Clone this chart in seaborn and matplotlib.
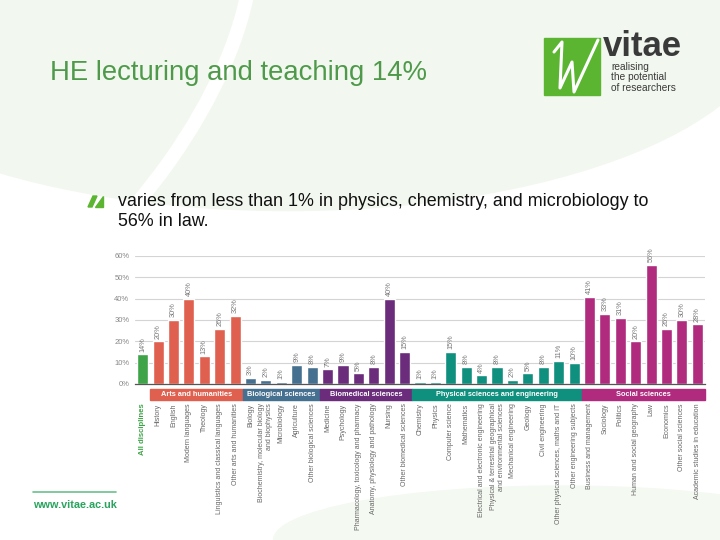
import matplotlib
matplotlib.use('Agg')
import matplotlib.pyplot as plt
import matplotlib.patches as mpatches
import matplotlib.transforms as mtransforms
import seaborn as sns
import pandas as pd

# --- dados ---
disciplinas = [
    'All disciplines',
    'History', 'English', 'Modern languages', 'Theology',
    'Linguistics and classical languages', 'Other arts and humanities',
    'Biology', 'Biochemistry, molecular biology\nand biophysics', 'Microbiology',
    'Agriculture', 'Other biological sciences',
    'Medicine', 'Psychology', 'Pharmacology, toxicology and pharmacy',
    'Anatomy, physiology and pathology', 'Nursing', 'Other biomedical sciences',
    'Chemistry', 'Physics', 'Computer science', 'Mathematics',
    'Electrical and electronic engineering',
    'Physical & terrestrial geographical\nand environmental sciences',
    'Mechanical engineering', 'Geology', 'Civil engineering',
    'Other physical sciences, maths and IT', 'Other engineering subjects',
    'Business and management', 'Sociology', 'Politics',
    'Human and social geography', 'Law', 'Economics',
    'Other social sciences', 'Academic studies in education',
]
valores = [14,
           20, 30, 40, 13, 26, 32,
           3, 2, 1, 9, 8,
           7, 9, 5, 8, 40, 15,
           1, 1, 15, 8, 4, 8, 2, 5, 8, 11, 10,
           41, 33, 31, 20, 56, 26, 30, 28]
grupos_nomes = ['All disciplines', 'Arts and humanities', 'Biological sciences',
                'Biomedical sciences', 'Physical sciences and engineering',
                'Social sciences']
grupos_tamanhos = [1, 6, 5, 6, 11, 8]
cores = ['#3ea447', '#e0604f', '#46708f', '#6a2c7b', '#0f8f7e', '#b02a7e']

grupo = []
for nome, n in zip(grupos_nomes, grupos_tamanhos):
    grupo += [nome] * n
df = pd.DataFrame({'disc': disciplinas, 'valor': valores, 'grupo': grupo})
paleta = dict(zip(grupos_nomes, cores))

sns.set_style('white')
plt.rcParams['font.family'] = ['Liberation Sans', 'DejaVu Sans']

fig = plt.figure(figsize=(7.2, 5.4), dpi=100)
fig.patch.set_facecolor('white')

# fundo verde claro (decoração do slide)
fig.patches.append(mpatches.Ellipse((0.40, 0.97), 1.35, 0.72, transform=fig.transFigure,
                                    color='#f2f8f0', zorder=-3))
fig.patches.append(mpatches.Ellipse((0.05, 0.80), 0.42, 1.0, angle=-28, transform=fig.transFigure,
                                    fill=False, lw=10, ec='white', zorder=-2))
fig.patches.append(mpatches.Ellipse((0.78, 0.0), 0.8, 0.2, transform=fig.transFigure,
                                    color='#f4f9f2', zorder=-3))

ax = fig.add_axes([135 / 720, 1 - 384 / 540, 570 / 720, 128 / 540])
ax.set_facecolor('none')
sns.barplot(data=df, x='disc', y='valor', hue='grupo', palette=paleta, order=disciplinas,
            dodge=False, legend=False, width=0.72, saturation=1, ax=ax, zorder=3)

ax.set_ylim(0, 60)
ax.set_xlim(-0.5, len(disciplinas) - 0.5)
ax.set_yticks(range(0, 61, 10))
ax.set_yticklabels([f'{v}%' for v in range(0, 61, 10)], fontsize=5.5, color='#888888')
ax.grid(axis='y', color='#d4d4d4', lw=0.8, zorder=0)
for s in ['top', 'right', 'left']:
    ax.spines[s].set_visible(False)
ax.spines['bottom'].set_color('#555555')
ax.spines['bottom'].set_linewidth(0.9)
ax.spines['bottom'].set_zorder(4)
ax.tick_params(axis='y', length=0, pad=4)
ax.tick_params(axis='x', length=0, pad=14)
ax.set_xlabel('')
ax.set_ylabel('')

# rótulos de valor
for i, v in enumerate(valores):
    ax.text(i, v + 1.2, f'{v}%', rotation=90, ha='center', va='bottom',
            fontsize=5.3, color='#777777')

# rótulos das disciplinas
ax.set_xticks(range(len(disciplinas)))
ax.set_xticklabels(disciplinas, rotation=90, fontsize=5, color='#666666',
                   ha='center', va='top', multialignment='right')
lab0 = ax.get_xticklabels()[0]
lab0.set_color('#3ea447')
lab0.set_fontweight('bold')
lab0.set_fontsize(5.6)

# faixas dos grupos
trans = mtransforms.blended_transform_factory(ax.transData, ax.transAxes)
inicio = 0
for nome, n, cor in zip(grupos_nomes, grupos_tamanhos, cores):
    if nome != 'All disciplines':
        ax.add_patch(mpatches.Rectangle((inicio - 0.5, -0.125), n, 0.086, transform=trans,
                                        color=cor, clip_on=False, zorder=2))
        ax.text(inicio - 0.5 + n / 2, -0.082, nome, transform=trans, ha='center', va='center',
                color='white', fontsize=5.3, fontweight='bold')
    inicio += n

# título e texto
fig.text(50 / 720, 1 - 73 / 540, 'HE lecturing and teaching 14%', fontsize=19.8,
         color='#4f9a4a', va='center', ha='left')
fig.text(118 / 720, 1 - 201 / 540, 'varies from less than 1% in physics, chemistry, and microbiology to',
         fontsize=12.9, color='#111111', va='center')
fig.text(118 / 720, 1 - 221 / 540, '56% in law.', fontsize=12.9, color='#111111', va='center')
# marcador
fig.patches.append(mpatches.Polygon([[88 / 720, 1 - 207 / 540], [92 / 720, 1 - 207 / 540],
                                     [97 / 720, 1 - 196 / 540], [93 / 720, 1 - 196 / 540]],
                                    closed=True, transform=fig.transFigure, color='#5bb531'))
fig.patches.append(mpatches.Polygon([[95 / 720, 1 - 207 / 540], [103 / 720, 1 - 207 / 540],
                                     [103 / 720, 1 - 196 / 540]],
                                    closed=True, transform=fig.transFigure, color='#5bb531'))

# logo
fig.patches.append(mpatches.Rectangle((544 / 720, 1 - 95 / 540), 56 / 720, 57 / 540,
                                      transform=fig.transFigure, color='#5bb531'))
fig.lines.append(plt.Line2D([554 / 720, 562 / 720, 560 / 720, 572 / 720, 574 / 720, 598 / 720],
                            [1 - 52 / 540, 1 - 42 / 540, 1 - 88 / 540, 1 - 62 / 540, 1 - 92 / 540, 1 - 40 / 540],
                            transform=fig.transFigure, color='white', lw=2.2))
fig.text(603 / 720, 1 - 46 / 540, 'vitae', fontsize=25, fontweight='bold', color='#3a3a3a',
         va='center', ha='left')
fig.text(611 / 720, 1 - 62 / 540, 'realising\nthe potential\nof researchers', fontsize=7.3,
         color='#3a3a3a', va='top', ha='left', linespacing=1.05)

# rodapé
fig.lines.append(plt.Line2D([33 / 720, 116 / 720], [1 - 492 / 540, 1 - 492 / 540],
                            transform=fig.transFigure, color='#6cc08e', lw=1.2))
fig.text(33 / 720, 1 - 505 / 540, 'www.vitae.ac.uk', fontsize=7.8, fontweight='bold',
         color='#2aa35f', va='center', ha='left')

fig.savefig('out.png', dpi=100)
